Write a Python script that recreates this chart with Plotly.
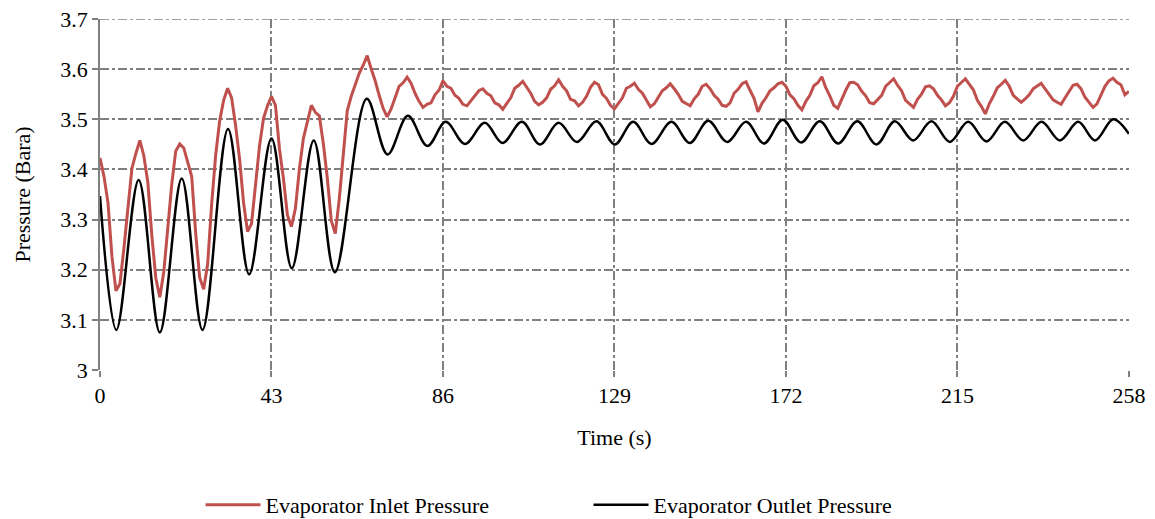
import plotly.graph_objects as go

# ---------------- data ----------------
x_ticks = [0, 43, 86, 129, 172, 215, 258]
y_ticks = [3.0, 3.1, 3.2, 3.3, 3.4, 3.5, 3.6, 3.7]
y_tick_labels = ["3", "3.1", "3.2", "3.3", "3.4", "3.5", "3.6", "3.7"]

# Evaporator outlet pressure: turning points (time s, pressure bara)
outlet_time = [0, 4.1, 9.7, 15.0, 20.5, 25.7, 32.1, 37.4, 43.0, 48.1, 53.6, 58.9,
               66.9, 72.1, 77.2, 82.1, 86.7, 91.5, 96.5, 100.9, 105.8, 110.3,
               115.0, 119.6, 124.5, 129.1, 133.7, 138.3, 143.3, 147.9, 152.5,
               157.3, 162.0, 166.5, 171.2, 175.8, 180.5, 185.1, 189.9, 194.7,
               199.3, 203.9, 208.5, 213.1, 217.7, 222.3, 226.9, 231.5, 236.1,
               240.7, 245.3, 249.5, 254.1, 258.0]
outlet_pressure = [3.347, 3.080, 3.379, 3.075, 3.382, 3.080, 3.481, 3.191, 3.462,
                   3.203, 3.458, 3.195, 3.541, 3.430, 3.507, 3.447, 3.495, 3.451,
                   3.493, 3.453, 3.495, 3.450, 3.493, 3.455, 3.496, 3.450, 3.495,
                   3.451, 3.495, 3.453, 3.497, 3.455, 3.495, 3.452, 3.499, 3.454,
                   3.496, 3.452, 3.496, 3.450, 3.496, 3.458, 3.496, 3.455, 3.495,
                   3.456, 3.495, 3.458, 3.495, 3.458, 3.495, 3.458, 3.500, 3.471]

# Evaporator inlet pressure: one reading per second, 0 ... 258 s
inlet_time = list(range(0, 259))
inlet_pressure = [
    3.423, 3.386, 3.334, 3.226, 3.158, 3.172, 3.243, 3.326, 3.402, 3.432,   # 0-9
    3.458, 3.427, 3.374, 3.268, 3.183, 3.145, 3.196, 3.283, 3.371, 3.437,   # 10-19
    3.451, 3.443, 3.412, 3.386, 3.272, 3.184, 3.161, 3.212, 3.331, 3.428,   # 20-29
    3.497, 3.538, 3.562, 3.543, 3.488, 3.421, 3.334, 3.276, 3.292, 3.368,   # 30-39
    3.447, 3.502, 3.527, 3.546, 3.528, 3.441, 3.382, 3.309, 3.286, 3.322,   # 40-49
    3.401, 3.462, 3.498, 3.528, 3.514, 3.507, 3.452, 3.383, 3.298, 3.272,   # 50-59
    3.341, 3.438, 3.517, 3.546, 3.568, 3.592, 3.608, 3.627, 3.601, 3.577,   # 60-69
    3.548, 3.522, 3.505, 3.521, 3.543, 3.566, 3.573, 3.584, 3.572, 3.552,   # 70-79
    3.536, 3.524, 3.530, 3.533, 3.549, 3.558, 3.577, 3.566, 3.562, 3.548,   # 80-89
    3.542, 3.530, 3.527, 3.537, 3.546, 3.557, 3.561, 3.552, 3.547, 3.533,   # 90-99
    3.529, 3.520, 3.532, 3.543, 3.562, 3.568, 3.576, 3.563, 3.552, 3.536,   # 100-109
    3.529, 3.534, 3.543, 3.560, 3.567, 3.579, 3.566, 3.557, 3.540, 3.537,   # 110-119
    3.527, 3.534, 3.546, 3.564, 3.574, 3.569, 3.550, 3.542, 3.528, 3.521,   # 120-129
    3.532, 3.543, 3.562, 3.566, 3.572, 3.560, 3.552, 3.538, 3.525, 3.531,   # 130-139
    3.543, 3.557, 3.563, 3.571, 3.561, 3.550, 3.536, 3.531, 3.527, 3.541,   # 140-149
    3.550, 3.566, 3.570, 3.561, 3.548, 3.540, 3.528, 3.526, 3.533, 3.552,   # 150-159
    3.560, 3.571, 3.575, 3.558, 3.542, 3.515, 3.532, 3.543, 3.557, 3.563,   # 160-169
    3.571, 3.574, 3.566, 3.549, 3.541, 3.528, 3.519, 3.536, 3.548, 3.567,   # 170-179
    3.573, 3.585, 3.563, 3.547, 3.528, 3.522, 3.541, 3.558, 3.573, 3.574,   # 180-189
    3.569, 3.556, 3.547, 3.533, 3.531, 3.539, 3.548, 3.566, 3.573, 3.581,   # 190-199
    3.568, 3.557, 3.538, 3.531, 3.524, 3.540, 3.550, 3.565, 3.567, 3.561,   # 200-209
    3.548, 3.539, 3.527, 3.533, 3.546, 3.566, 3.573, 3.581, 3.570, 3.559,   # 210-219
    3.538, 3.526, 3.511, 3.531, 3.546, 3.563, 3.570, 3.578, 3.566, 3.548,   # 220-229
    3.541, 3.534, 3.541, 3.549, 3.561, 3.566, 3.572, 3.561, 3.551, 3.539,   # 230-239
    3.534, 3.530, 3.543, 3.555, 3.568, 3.570, 3.561, 3.544, 3.533, 3.524,   # 240-249
    3.531, 3.547, 3.566, 3.577, 3.582, 3.574, 3.569, 3.549, 3.556,          # 250-258
]

series_names = ["Evaporator Inlet Pressure", "Evaporator Outlet Pressure"]
series_colors = ["#C0504D", "#000000"]

# ---------------- figure ----------------
FONT = "Liberation Serif, Times New Roman, serif"
GRID = "#808080"
FS = 22

fig = go.Figure()
fig.add_trace(go.Scatter(
    x=inlet_time, y=inlet_pressure, mode="lines", name=series_names[0],
    line=dict(color=series_colors[0], width=3),
))
fig.add_trace(go.Scatter(
    x=outlet_time, y=outlet_pressure, mode="lines", name=series_names[1],
    line=dict(color=series_colors[1], width=2.5, shape="spline", smoothing=1.0),
))

# top grid line at the upper end of the y range (plotly skips the edge one)
fig.add_shape(
    type="line", xref="paper", x0=0, x1=1, yref="y",
    y0=y_ticks[-1], y1=y_ticks[-1], layer="below",
    line=dict(color=GRID, width=1.5, dash="dashdot"),
)

fig.update_layout(
    width=1147, height=511,
    margin=dict(l=92, r=26, t=11, b=149, autoexpand=False),
    paper_bgcolor="white", plot_bgcolor="white",
    font=dict(family=FONT, size=FS, color="#000000"),
    showlegend=True,
    legend=dict(
        orientation="h", x=0.0977, xanchor="left", xref="paper",
        y=0.0274, yanchor="middle", yref="container",
        entrywidth=318, entrywidthmode="pixels",
        font=dict(family=FONT, size=FS, color="#000000"),
        bgcolor="rgba(0,0,0,0)", itemwidth=55,
    ),
)
fig.update_xaxes(
    range=[0, 258.03], tickvals=x_ticks, ticktext=[str(v) for v in x_ticks],
    showgrid=True, gridcolor=GRID, gridwidth=1.5, griddash="dashdot",
    zeroline=False, showline=False, automargin=False,
    ticks="outside", ticklen=6, tickcolor=GRID, tickwidth=1.5,
    ticklabeloverflow="allow",
    tickfont=dict(family=FONT, size=FS),
    title=dict(text="Time (s)", font=dict(family=FONT, size=FS), standoff=22),
)
fig.update_yaxes(
    range=[3.0, 3.7002], tickvals=y_ticks, ticktext=y_tick_labels,
    showgrid=True, gridcolor=GRID, gridwidth=1.5, griddash="dashdot",
    zeroline=False, showline=True, linecolor=GRID, linewidth=1.5,
    automargin=False, ticklabeloverflow="allow",
    ticks="outside", ticklen=6, tickcolor=GRID, tickwidth=1.5,
    tickfont=dict(family=FONT, size=FS),
    title=dict(text="Pressure (Bara)", font=dict(family=FONT, size=FS), standoff=24),
)

fig.write_html("out.html")
